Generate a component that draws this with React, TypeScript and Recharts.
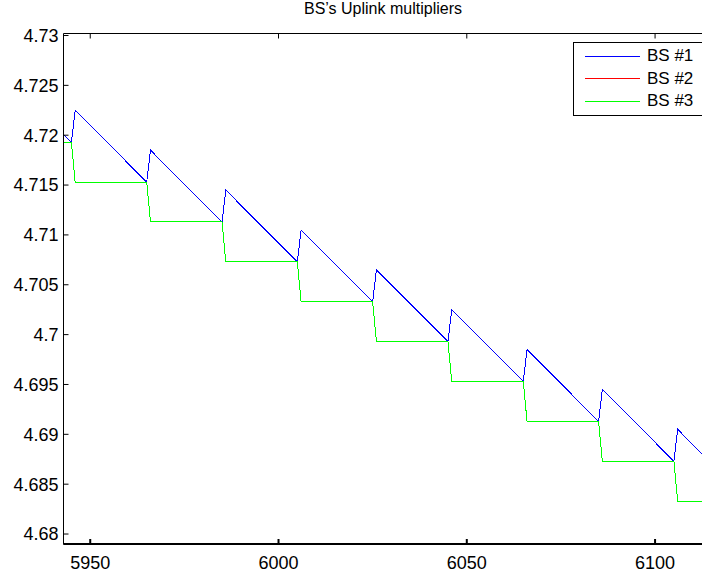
import { LineChart, Line, XAxis, YAxis, ReferenceLine } from "recharts";

const FONT = '"Liberation Sans", Arial, Helvetica, sans-serif';

// iteration index where each multiplier changes slope / steps
const STEPS = [
  5926, 5945, 5946, 5965, 5966, 5985, 5986, 6005, 6006, 6025,
  6026, 6045, 6046, 6065, 6066, 6085, 6086, 6105, 6106, 6125,
];

const BS1 = [
  4.7265, 4.7193, 4.7225, 4.7153, 4.7185, 4.7113, 4.7145, 4.7073, 4.7105, 4.7033,
  4.7065, 4.6993, 4.7025, 4.6953, 4.6985, 4.6913, 4.6945, 4.6873, 4.6905, 4.6833,
];

// BS #2 follows BS #3 exactly, so it ends up underneath the green trace
const BS2 = [
  4.7193, 4.7193, 4.7153, 4.7153, 4.7113, 4.7113, 4.7073, 4.7073, 4.7033, 4.7033,
  4.6993, 4.6993, 4.6953, 4.6953, 4.6913, 4.6913, 4.6873, 4.6873, 4.6833, 4.6833,
];

const BS3 = [
  4.7193, 4.7193, 4.7153, 4.7153, 4.7113, 4.7113, 4.7073, 4.7073, 4.7033, 4.7033,
  4.6993, 4.6993, 4.6953, 4.6953, 4.6913, 4.6913, 4.6873, 4.6873, 4.6833, 4.6833,
];

const X_TICKS = [5950, 6000, 6050, 6100];
const Y_TICKS = [4.68, 4.685, 4.69, 4.695, 4.7, 4.705, 4.71, 4.715, 4.72, 4.725, 4.73];

const X_DOMAIN: [number, number] = [5942.9, 6119.9];
const Y_DOMAIN: [number, number] = [4.679, 4.7302];

const SERIES = [
  { key: "bs1", name: "BS #1", color: "#0000ff" },
  { key: "bs2", name: "BS #2", color: "#ff0000" },
  { key: "bs3", name: "BS #3", color: "#00ff00" },
];

const rows = STEPS.map((t, i) => ({ t, bs1: BS1[i], bs2: BS2[i], bs3: BS3[i] }));

const fmtY = (v: number) => String(parseFloat(v.toFixed(3)));

const tickFont = { fill: "#000", fontSize: 18, fontFamily: FONT };

export default function App() {
  return (
    <div
      style={{
        position: "absolute",
        left: 0,
        top: 0,
        width: 702,
        height: 575,
        overflow: "hidden",
        background: "#fff",
        fontFamily: FONT,
      }}
    >
      <div
        style={{
          position: "absolute",
          left: 0,
          top: 0,
          width: 766,
          textAlign: "center",
          fontSize: 16,
          lineHeight: "18px",
          color: "#000",
        }}
      >
        BS’s Uplink multipliers
      </div>

      <LineChart width={740} height={575} data={rows} margin={{ top: 32.5, right: 10, bottom: 0, left: 0 }}>
        {/* mirrored top edge: box line plus inward ticks, no labels */}
        <XAxis
          xAxisId="top"
          orientation="top"
          dataKey="t"
          type="number"
          domain={X_DOMAIN}
          allowDataOverflow
          ticks={X_TICKS}
          interval={0}
          height={1}
          tickSize={-5}
          tickFormatter={() => ""}
          stroke="#000"
        />
        <XAxis
          dataKey="t"
          type="number"
          domain={X_DOMAIN}
          allowDataOverflow
          ticks={X_TICKS}
          interval={0}
          height={31}
          tickSize={-5}
          tickMargin={17}
          stroke="#000"
          strokeWidth={2}
          tick={tickFont}
        />
        <YAxis
          type="number"
          domain={Y_DOMAIN}
          allowDataOverflow
          ticks={Y_TICKS}
          interval={0}
          width={63.5}
          tickSize={-5}
          tickMargin={10}
          tickFormatter={fmtY}
          stroke="#000"
          tick={tickFont}
        />
        {/* bottom edge of the axes box */}
        <ReferenceLine y={Y_DOMAIN[0]} stroke="#000" strokeWidth={2} />
        {SERIES.map((s) => (
          <Line
            key={s.key}
            type="linear"
            dataKey={s.key}
            name={s.name}
            stroke={s.color}
            strokeWidth={1}
            shapeRendering="crispEdges"
            dot={false}
            isAnimationActive={false}
          />
        ))}
      </LineChart>

      <div
        style={{
          position: "absolute",
          left: 573,
          top: 42,
          width: 140,
          height: 74,
          border: "1px solid #000",
          background: "#fff",
          paddingTop: 2,
          boxSizing: "border-box",
        }}
      >
        {SERIES.map((s) => (
          <div key={s.key} style={{ display: "flex", alignItems: "center", height: 22.5 }}>
            <span style={{ marginLeft: 11, width: 55, borderTop: `1px solid ${s.color}` }} />
            <span style={{ marginLeft: 7, fontSize: 17, lineHeight: "22.5px", color: "#000" }}>{s.name}</span>
          </div>
        ))}
      </div>
    </div>
  );
}
